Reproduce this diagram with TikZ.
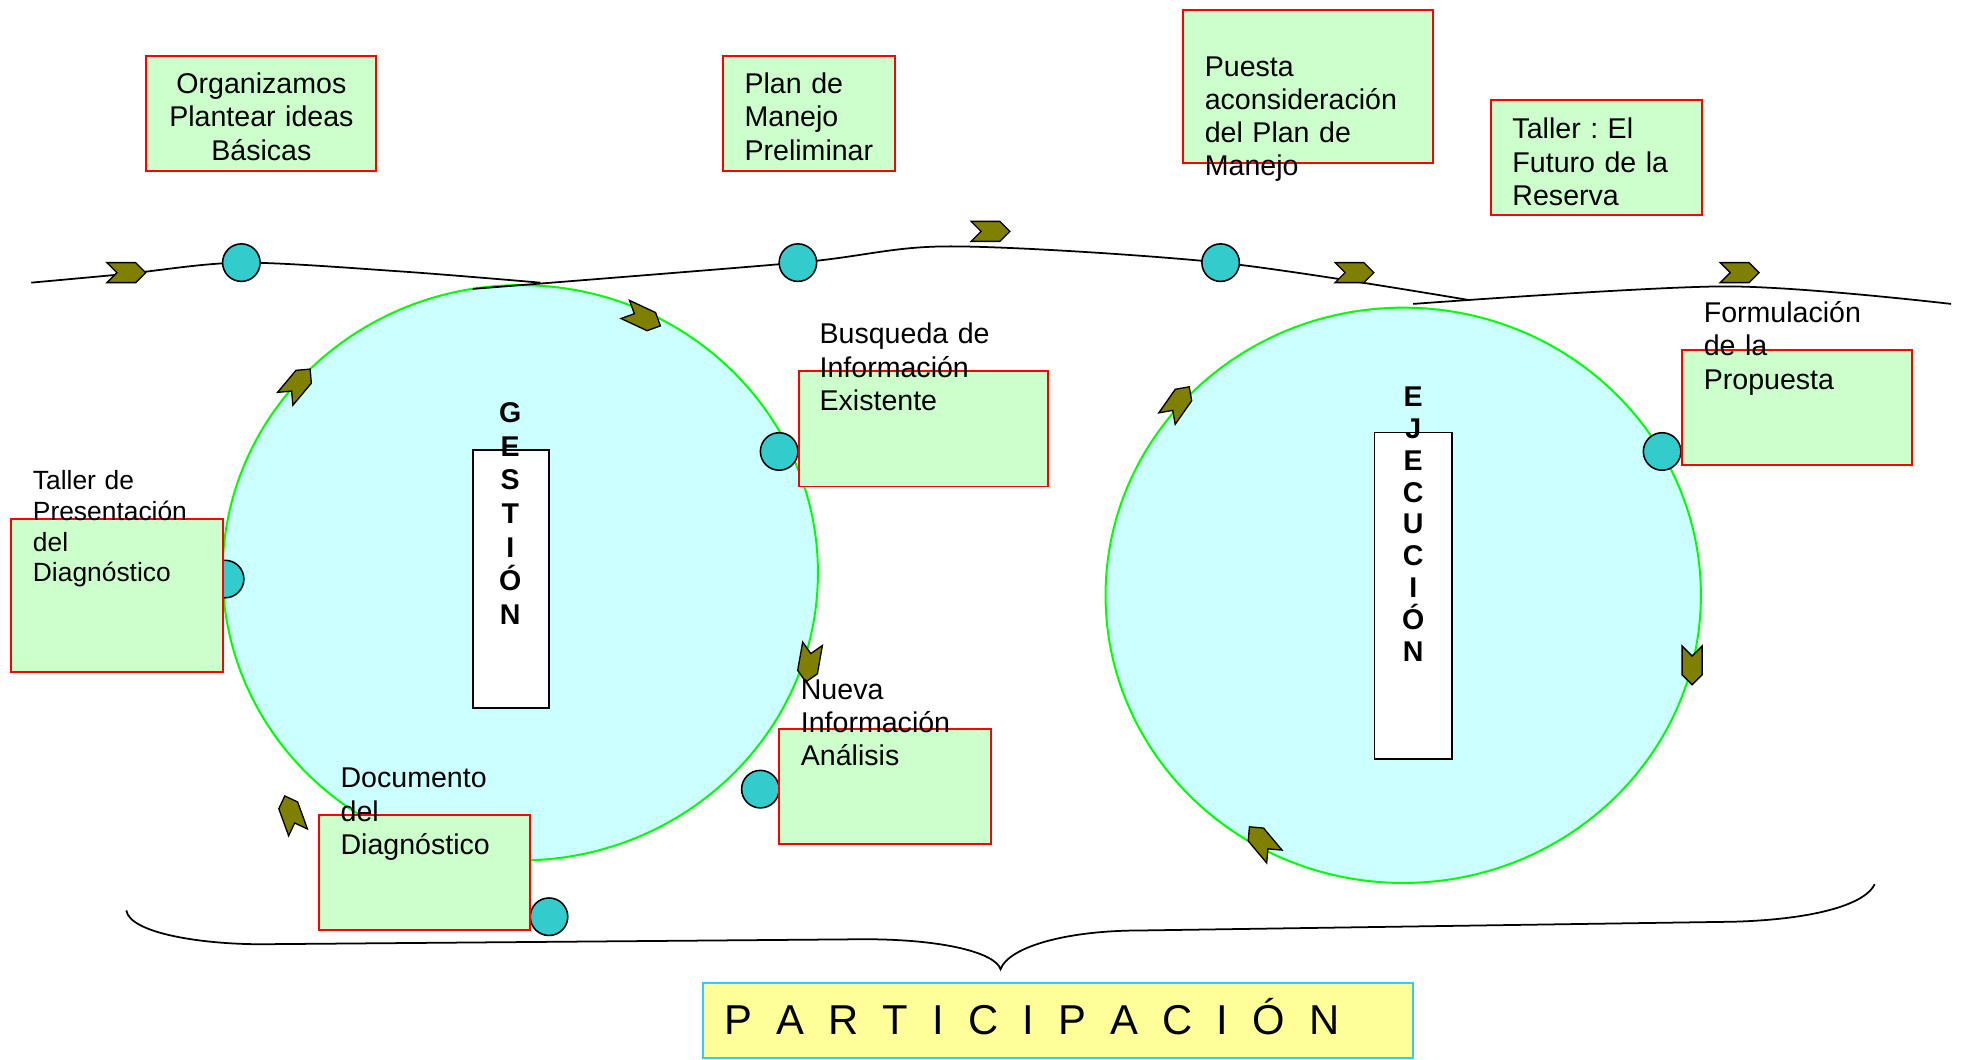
\documentclass[tikz,border=0pt]{standalone}
\usepackage{fontspec}
\setmainfont{Liberation Sans}
\usetikzlibrary{positioning,shapes.geometric,shapes.symbols}

\definecolor{boxgreen}{HTML}{CCFFCC}
\definecolor{boxred}{HTML}{FF0000}
\definecolor{ringfill}{HTML}{CCFFFF}
\definecolor{ringline}{HTML}{00FF00}
\definecolor{dotcyan}{HTML}{33CCCC}
\definecolor{chevolive}{HTML}{808000}
\definecolor{partyellow}{HTML}{FFFF99}
\definecolor{partblue}{HTML}{33CCFF}

\begin{document}
\begin{tikzpicture}[x=0.2mm,y=0.2mm,
  box/.style={rectangle,draw=boxred,fill=boxgreen,line width=0.9pt,inner sep=0pt},
  boxtext/.style={anchor=base west,inner sep=0pt,text width=45mm,align=left,font=\fontsize{13}{15.1}\selectfont},
  ring/.style={ellipse,draw=ringline,fill=ringfill,line width=0.9pt,minimum width=95.2mm,minimum height=92mm},
  dot/.style={circle,draw,fill=dotcyan,line width=0.7pt,minimum size=6mm,inner sep=0pt},
  chev/.style={signal,signal from=west,signal to=east,draw,fill=chevolive,line width=0.6pt,minimum width=6.2mm,minimum height=3.2mm,inner sep=0pt},
  stackbox/.style={rectangle,draw,fill=white,line width=0.7pt,inner sep=0pt},
  stack/.style={anchor=base,inner sep=0pt,text width=6mm,align=center,font=\fontsize{13}{15.3}\selectfont\bfseries},
  flow/.style={line width=0.8pt}]
  \useasboundingbox (0,0) rectangle (1568,-847);

  % ciclos
  \node[ring] (gest) at (416,-458) {};
  \node[ring] (ejec) at (1122,-476) {};

  % linea de tiempo
  \coordinate (k1) at (193,-210);
  \coordinate (k2) at (638,-210);
  \coordinate (k3) at (976,-210);
  \draw[flow] plot[smooth] coordinates {(25,-226) (101,-219) (k1) (320,-217) (432,-226)};
  \draw[flow] plot[smooth] coordinates {(378,-231) (k2) (760,-197) (k3) (1175,-240)};
  \draw[flow] plot[smooth] coordinates {(1130,-243) (1380,-229) (1560,-243)};

  % llave
  \draw[flow] (101,-728) .. controls (104,-746) and (160,-755) .. (209,-755) -- (691,-751)
    .. controls (755,-751) and (796,-762) .. (800,-775)
    .. controls (806,-758) and (850,-744) .. (912,-744) -- (1386,-737)
    .. controls (1455,-735) and (1492,-722) .. (1499,-707);

  % flechas
  \foreach \x/\y/\a [count=\i] in {101/218/0, 792/185/0, 1083/218/0, 1391/218/0,
      514/254/-25, 238/307/50, 647/530/-100, 233/651/110,
      942/322/55, 1353/532/-90, 1009/673/130}
    \node[chev,rotate=\a] (f\i) at (\x,-\y) {};

  % puntos
  \node[dot] (c1) at (k1) {};
  \node[dot] (c2) at (k2) {};
  \node[dot] (c3) at (k3) {};
  \foreach \x/\y [count=\i from 4] in {623/361, 180/463, 608/631, 439/733, 1329/361}
    \node[dot] (c\i) at (\x,-\y) {};

  % cajas
  \node[box,minimum width=36.8mm,minimum height=18.4mm] (org) at (209,-91) {};
  \node[box,minimum width=27.6mm,minimum height=18.4mm] (plan) at (647,-91) {};
  \node[box,minimum width=40mm,minimum height=24.4mm] (puesta) at (1046,-69) {};
  \node[box,minimum width=33.8mm,minimum height=18.4mm] (futuro) at (1276.5,-126) {};
  \node[box,minimum width=39.8mm,minimum height=18.4mm] (busq) at (738.5,-343) {};
  \node[box,minimum width=33.8mm,minimum height=24.4mm] (pres) at (93.5,-476) {};
  \node[box,minimum width=33.8mm,minimum height=18.4mm] (docu) at (339.5,-698) {};
  \node[box,minimum width=33.8mm,minimum height=18.4mm] (nueva) at (707.5,-629) {};
  \node[box,minimum width=36.8mm,minimum height=18.4mm] (formu) at (1437,-326) {};

  \node[boxtext,anchor=base,text width=36mm,align=center] (org text) at (209,-75) {Organizamos\\Plantear ideas\\Básicas};
  \node[boxtext] (plan text) at (595,-75) {Plan de\\Manejo\\Preliminar};
  \node[boxtext] (puesta text) at (963,-61) {Puesta\\aconsideración\\del Plan de\\Manejo};
  \node[boxtext] (futuro text) at (1209,-111) {Taller :\ El\\Futuro de la\\Reserva};
  \node[boxtext] (busq text) at (655,-275) {Busqueda de\\Información\\Existente};
  \node[boxtext,font=\fontsize{12}{14}\selectfont] (pres text) at (26,-391.5) {Taller de\\Presentación\\del\\Diagnóstico};
  \node[boxtext] (docu text) at (272,-630) {Documento\\del\\Diagnóstico};
  \node[boxtext] (nueva text) at (640,-559) {Nueva\\Información\\Análisis};
  \node[boxtext] (formu text) at (1362,-258) {Formulación\\de la\\Propuesta};

  % etapas
  \node[stackbox,minimum width=12.2mm,minimum height=41.2mm] (gbox) at (408.5,-463) {};
  \node[stack] (glabel) at (408,-338) {G\\E\\S\\T\\I\\Ó\\N};
  \node[stackbox,minimum width=12.4mm,minimum height=52.2mm] (ebox) at (1130,-476.5) {};
  \node[stack,font=\fontsize{13}{14.5}\selectfont\bfseries] (elabel) at (1130,-325) {E\\J\\E\\C\\U\\C\\I\\Ó\\N};

  % participacion
  \node[draw=partblue,fill=partyellow,line width=0.9pt,minimum width=113.6mm,minimum height=12mm,inner sep=0pt] (part) at (846,-816) {};
  \node[anchor=base west,inner sep=0pt,font=\fontsize{19}{22}\selectfont] (part text) at (579,-827)
    {\foreach \ch in {P,A,R,T,I,C,I,P,A,C,I,Ó,N}{\ch\hspace{11pt}}};
\end{tikzpicture}
\end{document}
